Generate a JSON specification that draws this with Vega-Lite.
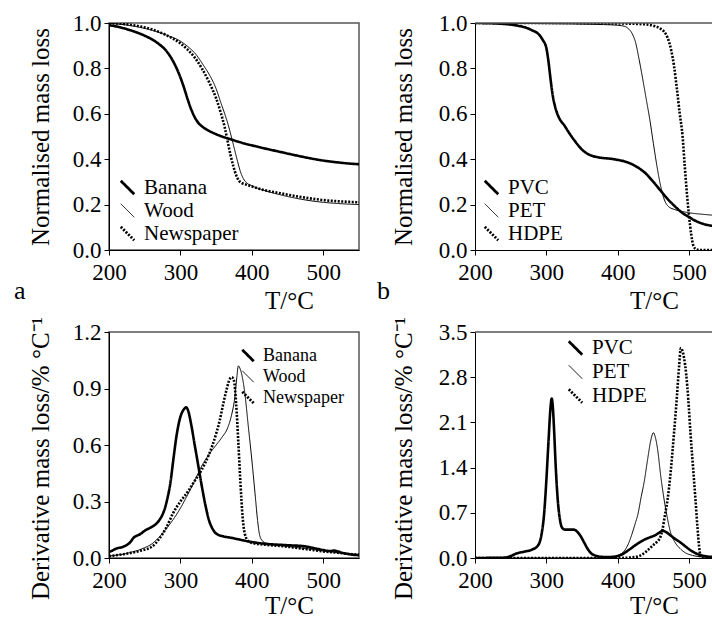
{
  "$schema": "https://vega.github.io/schema/vega-lite/v6.json",
  "padding": {"left": 13, "top": 11, "right": 0, "bottom": 0},
  "background": "white",
  "config": {
    "font": "Liberation Serif",
    "view": {"stroke": "#555555", "strokeWidth": 1.5},
    "axis": {
      "grid": false,
      "domainColor": "black",
      "domainWidth": 1,
      "tickColor": "black",
      "tickSize": 5,
      "labelFont": "Liberation Serif",
      "labelFontSize": 23,
      "labelColor": "black",
      "titleFont": "Liberation Serif",
      "titleFontSize": 25,
      "titleFontWeight": "normal",
      "titleColor": "black"
    },
    "axisY": {"labelPadding": 3, "titlePadding": 19},
    "axisX": {"labelPadding": 6, "labelFlush": false},
    "legend": {
      "labelFont": "Liberation Serif",
      "labelFontSize": 21,
      "labelColor": "black",
      "symbolType": "M-1,-1L1,1",
      "symbolSize": 180,
      "symbolStrokeColor": "black",
      "symbolFillColor": "transparent",
      "symbolStrokeWidth": 2.6,
      "labelOffset": 6,
      "rowPadding": 0
    },
    "title": {"font": "Liberation Serif", "fontWeight": "normal", "color": "black"}
  },
  "datasets": {
    "tgBio": [
      {"s":"Banana","T":200,"v":0.99},{"s":"Banana","T":210,"v":0.985},{"s":"Banana","T":220,"v":0.977},{"s":"Banana","T":230,"v":0.968},{"s":"Banana","T":240,"v":0.957},{"s":"Banana","T":250,"v":0.944},{"s":"Banana","T":260,"v":0.928},{"s":"Banana","T":270,"v":0.907},{"s":"Banana","T":280,"v":0.878},{"s":"Banana","T":290,"v":0.83},{"s":"Banana","T":300,"v":0.76},{"s":"Banana","T":305,"v":0.715},{"s":"Banana","T":310,"v":0.665},{"s":"Banana","T":315,"v":0.62},{"s":"Banana","T":320,"v":0.585},{"s":"Banana","T":325,"v":0.56},{"s":"Banana","T":330,"v":0.545},{"s":"Banana","T":340,"v":0.525},{"s":"Banana","T":350,"v":0.51},{"s":"Banana","T":360,"v":0.498},{"s":"Banana","T":370,"v":0.488},{"s":"Banana","T":380,"v":0.478},{"s":"Banana","T":390,"v":0.469},{"s":"Banana","T":400,"v":0.461},{"s":"Banana","T":420,"v":0.446},{"s":"Banana","T":440,"v":0.432},{"s":"Banana","T":460,"v":0.418},{"s":"Banana","T":480,"v":0.405},{"s":"Banana","T":500,"v":0.394},{"s":"Banana","T":520,"v":0.386},{"s":"Banana","T":540,"v":0.38},{"s":"Banana","T":550,"v":0.378},
      {"s":"Wood","T":200,"v":0.998},{"s":"Wood","T":220,"v":0.993},{"s":"Wood","T":240,"v":0.983},{"s":"Wood","T":260,"v":0.968},{"s":"Wood","T":280,"v":0.947},{"s":"Wood","T":300,"v":0.92},{"s":"Wood","T":310,"v":0.897},{"s":"Wood","T":320,"v":0.868},{"s":"Wood","T":333,"v":0.81},{"s":"Wood","T":340,"v":0.775},{"s":"Wood","T":350,"v":0.71},{"s":"Wood","T":357,"v":0.645},{"s":"Wood","T":362,"v":0.6},{"s":"Wood","T":367,"v":0.55},{"s":"Wood","T":372,"v":0.49},{"s":"Wood","T":376,"v":0.44},{"s":"Wood","T":380,"v":0.39},{"s":"Wood","T":384,"v":0.345},{"s":"Wood","T":388,"v":0.315},{"s":"Wood","T":392,"v":0.298},{"s":"Wood","T":400,"v":0.283},{"s":"Wood","T":420,"v":0.26},{"s":"Wood","T":440,"v":0.243},{"s":"Wood","T":460,"v":0.229},{"s":"Wood","T":480,"v":0.218},{"s":"Wood","T":500,"v":0.21},{"s":"Wood","T":520,"v":0.205},{"s":"Wood","T":550,"v":0.2},
      {"s":"Newspaper","T":200,"v":1.0},{"s":"Newspaper","T":220,"v":0.996},{"s":"Newspaper","T":240,"v":0.987},{"s":"Newspaper","T":260,"v":0.972},{"s":"Newspaper","T":280,"v":0.947},{"s":"Newspaper","T":300,"v":0.91},{"s":"Newspaper","T":310,"v":0.883},{"s":"Newspaper","T":320,"v":0.848},{"s":"Newspaper","T":330,"v":0.8},{"s":"Newspaper","T":340,"v":0.74},{"s":"Newspaper","T":350,"v":0.668},{"s":"Newspaper","T":356,"v":0.61},{"s":"Newspaper","T":362,"v":0.54},{"s":"Newspaper","T":366,"v":0.48},{"s":"Newspaper","T":370,"v":0.42},{"s":"Newspaper","T":374,"v":0.37},{"s":"Newspaper","T":378,"v":0.33},{"s":"Newspaper","T":382,"v":0.305},{"s":"Newspaper","T":386,"v":0.295},{"s":"Newspaper","T":392,"v":0.288},{"s":"Newspaper","T":400,"v":0.28},{"s":"Newspaper","T":420,"v":0.262},{"s":"Newspaper","T":440,"v":0.25},{"s":"Newspaper","T":460,"v":0.238},{"s":"Newspaper","T":480,"v":0.228},{"s":"Newspaper","T":500,"v":0.22},{"s":"Newspaper","T":520,"v":0.215},{"s":"Newspaper","T":550,"v":0.21}
    ],
    "tgPlas": [
      {"s":"PVC","T":200,"v":1.0},{"s":"PVC","T":220,"v":0.999},{"s":"PVC","T":240,"v":0.996},{"s":"PVC","T":260,"v":0.988},{"s":"PVC","T":270,"v":0.981},{"s":"PVC","T":280,"v":0.968},{"s":"PVC","T":290,"v":0.948},{"s":"PVC","T":295,"v":0.925},{"s":"PVC","T":300,"v":0.89},{"s":"PVC","T":303,"v":0.83},{"s":"PVC","T":306,"v":0.75},{"s":"PVC","T":309,"v":0.68},{"s":"PVC","T":312,"v":0.635},{"s":"PVC","T":316,"v":0.595},{"s":"PVC","T":320,"v":0.57},{"s":"PVC","T":325,"v":0.55},{"s":"PVC","T":330,"v":0.525},{"s":"PVC","T":340,"v":0.48},{"s":"PVC","T":350,"v":0.442},{"s":"PVC","T":360,"v":0.42},{"s":"PVC","T":370,"v":0.41},{"s":"PVC","T":380,"v":0.405},{"s":"PVC","T":390,"v":0.402},{"s":"PVC","T":400,"v":0.397},{"s":"PVC","T":410,"v":0.39},{"s":"PVC","T":420,"v":0.378},{"s":"PVC","T":430,"v":0.36},{"s":"PVC","T":440,"v":0.335},{"s":"PVC","T":450,"v":0.3},{"s":"PVC","T":460,"v":0.262},{"s":"PVC","T":470,"v":0.225},{"s":"PVC","T":480,"v":0.193},{"s":"PVC","T":490,"v":0.165},{"s":"PVC","T":500,"v":0.145},{"s":"PVC","T":510,"v":0.127},{"s":"PVC","T":520,"v":0.115},{"s":"PVC","T":535,"v":0.105},
      {"s":"PET","T":200,"v":1.0},{"s":"PET","T":300,"v":0.997},{"s":"PET","T":380,"v":0.993},{"s":"PET","T":400,"v":0.99},{"s":"PET","T":410,"v":0.985},{"s":"PET","T":415,"v":0.975},{"s":"PET","T":420,"v":0.955},{"s":"PET","T":425,"v":0.915},{"s":"PET","T":430,"v":0.84},{"s":"PET","T":435,"v":0.755},{"s":"PET","T":440,"v":0.665},{"s":"PET","T":445,"v":0.575},{"s":"PET","T":450,"v":0.47},{"s":"PET","T":455,"v":0.37},{"s":"PET","T":460,"v":0.285},{"s":"PET","T":465,"v":0.225},{"s":"PET","T":470,"v":0.195},{"s":"PET","T":480,"v":0.178},{"s":"PET","T":490,"v":0.17},{"s":"PET","T":500,"v":0.164},{"s":"PET","T":520,"v":0.157},{"s":"PET","T":535,"v":0.153},
      {"s":"HDPE","T":200,"v":1.0},{"s":"HDPE","T":300,"v":1.0},{"s":"HDPE","T":400,"v":0.998},{"s":"HDPE","T":440,"v":0.994},{"s":"HDPE","T":450,"v":0.988},{"s":"HDPE","T":460,"v":0.975},{"s":"HDPE","T":465,"v":0.962},{"s":"HDPE","T":470,"v":0.935},{"s":"HDPE","T":475,"v":0.88},{"s":"HDPE","T":479,"v":0.81},{"s":"HDPE","T":483,"v":0.71},{"s":"HDPE","T":487,"v":0.6},{"s":"HDPE","T":491,"v":0.5},{"s":"HDPE","T":494,"v":0.37},{"s":"HDPE","T":497,"v":0.25},{"s":"HDPE","T":500,"v":0.15},{"s":"HDPE","T":503,"v":0.07},{"s":"HDPE","T":506,"v":0.02},{"s":"HDPE","T":510,"v":0.003},{"s":"HDPE","T":515,"v":0.0},{"s":"HDPE","T":535,"v":0.0}
    ],
    "dtgBio": [
      {"s":"Banana","T":200,"v":0.032},{"s":"Banana","T":205,"v":0.04},{"s":"Banana","T":210,"v":0.05},{"s":"Banana","T":220,"v":0.06},{"s":"Banana","T":230,"v":0.085},{"s":"Banana","T":235,"v":0.11},{"s":"Banana","T":240,"v":0.12},{"s":"Banana","T":245,"v":0.13},{"s":"Banana","T":250,"v":0.145},{"s":"Banana","T":260,"v":0.165},{"s":"Banana","T":267,"v":0.185},{"s":"Banana","T":272,"v":0.21},{"s":"Banana","T":277,"v":0.25},{"s":"Banana","T":282,"v":0.32},{"s":"Banana","T":286,"v":0.4},{"s":"Banana","T":290,"v":0.52},{"s":"Banana","T":295,"v":0.66},{"s":"Banana","T":300,"v":0.75},{"s":"Banana","T":305,"v":0.79},{"s":"Banana","T":308,"v":0.8},{"s":"Banana","T":311,"v":0.78},{"s":"Banana","T":315,"v":0.71},{"s":"Banana","T":320,"v":0.6},{"s":"Banana","T":325,"v":0.49},{"s":"Banana","T":330,"v":0.38},{"s":"Banana","T":335,"v":0.28},{"s":"Banana","T":340,"v":0.2},{"s":"Banana","T":345,"v":0.155},{"s":"Banana","T":350,"v":0.13},{"s":"Banana","T":360,"v":0.115},{"s":"Banana","T":370,"v":0.108},{"s":"Banana","T":380,"v":0.1},{"s":"Banana","T":390,"v":0.092},{"s":"Banana","T":400,"v":0.085},{"s":"Banana","T":420,"v":0.075},{"s":"Banana","T":440,"v":0.07},{"s":"Banana","T":460,"v":0.066},{"s":"Banana","T":470,"v":0.064},{"s":"Banana","T":480,"v":0.058},{"s":"Banana","T":490,"v":0.05},{"s":"Banana","T":500,"v":0.042},{"s":"Banana","T":510,"v":0.037},{"s":"Banana","T":515,"v":0.04},{"s":"Banana","T":520,"v":0.035},{"s":"Banana","T":530,"v":0.025},{"s":"Banana","T":540,"v":0.018},{"s":"Banana","T":550,"v":0.015},
      {"s":"Wood","T":200,"v":0.01},{"s":"Wood","T":210,"v":0.015},{"s":"Wood","T":220,"v":0.02},{"s":"Wood","T":230,"v":0.03},{"s":"Wood","T":240,"v":0.04},{"s":"Wood","T":250,"v":0.055},{"s":"Wood","T":260,"v":0.075},{"s":"Wood","T":270,"v":0.11},{"s":"Wood","T":280,"v":0.155},{"s":"Wood","T":290,"v":0.205},{"s":"Wood","T":300,"v":0.265},{"s":"Wood","T":310,"v":0.335},{"s":"Wood","T":320,"v":0.41},{"s":"Wood","T":330,"v":0.49},{"s":"Wood","T":340,"v":0.55},{"s":"Wood","T":350,"v":0.6},{"s":"Wood","T":358,"v":0.64},{"s":"Wood","T":366,"v":0.69},{"s":"Wood","T":371,"v":0.75},{"s":"Wood","T":376,"v":0.85},{"s":"Wood","T":379,"v":0.96},{"s":"Wood","T":381,"v":1.02},{"s":"Wood","T":384,"v":1.0},{"s":"Wood","T":390,"v":0.88},{"s":"Wood","T":395,"v":0.7},{"s":"Wood","T":400,"v":0.52},{"s":"Wood","T":405,"v":0.32},{"s":"Wood","T":408,"v":0.2},{"s":"Wood","T":411,"v":0.12},{"s":"Wood","T":415,"v":0.09},{"s":"Wood","T":420,"v":0.078},{"s":"Wood","T":440,"v":0.066},{"s":"Wood","T":460,"v":0.057},{"s":"Wood","T":480,"v":0.048},{"s":"Wood","T":500,"v":0.038},{"s":"Wood","T":520,"v":0.028},{"s":"Wood","T":540,"v":0.02},{"s":"Wood","T":550,"v":0.018},
      {"s":"Newspaper","T":200,"v":0.01},{"s":"Newspaper","T":220,"v":0.02},{"s":"Newspaper","T":240,"v":0.035},{"s":"Newspaper","T":260,"v":0.06},{"s":"Newspaper","T":270,"v":0.1},{"s":"Newspaper","T":280,"v":0.16},{"s":"Newspaper","T":290,"v":0.24},{"s":"Newspaper","T":300,"v":0.3},{"s":"Newspaper","T":310,"v":0.35},{"s":"Newspaper","T":320,"v":0.41},{"s":"Newspaper","T":330,"v":0.47},{"s":"Newspaper","T":340,"v":0.55},{"s":"Newspaper","T":350,"v":0.66},{"s":"Newspaper","T":355,"v":0.73},{"s":"Newspaper","T":360,"v":0.82},{"s":"Newspaper","T":365,"v":0.9},{"s":"Newspaper","T":369,"v":0.95},{"s":"Newspaper","T":372,"v":0.96},{"s":"Newspaper","T":375,"v":0.94},{"s":"Newspaper","T":378,"v":0.82},{"s":"Newspaper","T":381,"v":0.62},{"s":"Newspaper","T":384,"v":0.4},{"s":"Newspaper","T":387,"v":0.22},{"s":"Newspaper","T":390,"v":0.13},{"s":"Newspaper","T":395,"v":0.09},{"s":"Newspaper","T":400,"v":0.08},{"s":"Newspaper","T":420,"v":0.07},{"s":"Newspaper","T":440,"v":0.064},{"s":"Newspaper","T":460,"v":0.055},{"s":"Newspaper","T":480,"v":0.045},{"s":"Newspaper","T":500,"v":0.035},{"s":"Newspaper","T":520,"v":0.028},{"s":"Newspaper","T":540,"v":0.02},{"s":"Newspaper","T":550,"v":0.018}
    ],
    "dtgPlas": [
      {"s":"PVC","T":200,"v":0.0},{"s":"PVC","T":240,"v":0.005},{"s":"PVC","T":250,"v":0.03},{"s":"PVC","T":258,"v":0.07},{"s":"PVC","T":270,"v":0.1},{"s":"PVC","T":280,"v":0.13},{"s":"PVC","T":288,"v":0.19},{"s":"PVC","T":293,"v":0.35},{"s":"PVC","T":297,"v":0.7},{"s":"PVC","T":300,"v":1.2},{"s":"PVC","T":303,"v":1.8},{"s":"PVC","T":306,"v":2.35},{"s":"PVC","T":307.5,"v":2.47},{"s":"PVC","T":309,"v":2.35},{"s":"PVC","T":311,"v":1.95},{"s":"PVC","T":313,"v":1.45},{"s":"PVC","T":316,"v":0.9},{"s":"PVC","T":319,"v":0.6},{"s":"PVC","T":322,"v":0.47},{"s":"PVC","T":326,"v":0.44},{"s":"PVC","T":332,"v":0.44},{"s":"PVC","T":338,"v":0.44},{"s":"PVC","T":343,"v":0.41},{"s":"PVC","T":348,"v":0.34},{"s":"PVC","T":353,"v":0.24},{"s":"PVC","T":358,"v":0.14},{"s":"PVC","T":363,"v":0.07},{"s":"PVC","T":368,"v":0.04},{"s":"PVC","T":375,"v":0.02},{"s":"PVC","T":385,"v":0.015},{"s":"PVC","T":395,"v":0.02},{"s":"PVC","T":405,"v":0.05},{"s":"PVC","T":415,"v":0.12},{"s":"PVC","T":425,"v":0.2},{"s":"PVC","T":435,"v":0.27},{"s":"PVC","T":445,"v":0.32},{"s":"PVC","T":452,"v":0.35},{"s":"PVC","T":458,"v":0.39},{"s":"PVC","T":463,"v":0.42},{"s":"PVC","T":468,"v":0.4},{"s":"PVC","T":474,"v":0.35},{"s":"PVC","T":480,"v":0.3},{"s":"PVC","T":488,"v":0.24},{"s":"PVC","T":495,"v":0.18},{"s":"PVC","T":502,"v":0.12},{"s":"PVC","T":510,"v":0.07},{"s":"PVC","T":520,"v":0.035},{"s":"PVC","T":535,"v":0.015},
      {"s":"PET","T":200,"v":0.0},{"s":"PET","T":380,"v":0.0},{"s":"PET","T":390,"v":0.01},{"s":"PET","T":400,"v":0.04},{"s":"PET","T":410,"v":0.12},{"s":"PET","T":415,"v":0.22},{"s":"PET","T":420,"v":0.37},{"s":"PET","T":425,"v":0.55},{"s":"PET","T":428,"v":0.66},{"s":"PET","T":433,"v":0.95},{"s":"PET","T":437,"v":1.17},{"s":"PET","T":442,"v":1.53},{"s":"PET","T":446,"v":1.8},{"s":"PET","T":450,"v":1.94},{"s":"PET","T":453,"v":1.86},{"s":"PET","T":456,"v":1.68},{"s":"PET","T":460,"v":1.3},{"s":"PET","T":465,"v":0.91},{"s":"PET","T":470,"v":0.6},{"s":"PET","T":474,"v":0.4},{"s":"PET","T":480,"v":0.25},{"s":"PET","T":488,"v":0.14},{"s":"PET","T":495,"v":0.08},{"s":"PET","T":505,"v":0.04},{"s":"PET","T":520,"v":0.015},{"s":"PET","T":535,"v":0.005},
      {"s":"HDPE","T":200,"v":0.0},{"s":"HDPE","T":400,"v":0.0},{"s":"HDPE","T":420,"v":0.01},{"s":"HDPE","T":430,"v":0.03},{"s":"HDPE","T":440,"v":0.1},{"s":"HDPE","T":445,"v":0.15},{"s":"HDPE","T":450,"v":0.2},{"s":"HDPE","T":455,"v":0.25},{"s":"HDPE","T":460,"v":0.33},{"s":"HDPE","T":463,"v":0.45},{"s":"HDPE","T":466,"v":0.65},{"s":"HDPE","T":470,"v":0.91},{"s":"HDPE","T":474,"v":1.3},{"s":"HDPE","T":479,"v":1.94},{"s":"HDPE","T":483,"v":2.5},{"s":"HDPE","T":486,"v":2.96},{"s":"HDPE","T":488.5,"v":3.25},{"s":"HDPE","T":491,"v":3.2},{"s":"HDPE","T":493,"v":3.1},{"s":"HDPE","T":496,"v":2.85},{"s":"HDPE","T":499,"v":2.45},{"s":"HDPE","T":502,"v":1.94},{"s":"HDPE","T":506,"v":1.35},{"s":"HDPE","T":509,"v":0.91},{"s":"HDPE","T":512,"v":0.45},{"s":"HDPE","T":514,"v":0.19},{"s":"HDPE","T":516,"v":0.03},{"s":"HDPE","T":518,"v":0.0},{"s":"HDPE","T":535,"v":0.0}
    ]
  },
  "resolve": {"scale": {"strokeDash": "independent"}, "legend": {"strokeDash": "independent"}},
  "spacing": 17,
  "hconcat": [
    {
      "bounds": "flush",
      "spacing": 82,
      "resolve": {"scale": {"strokeDash": "independent"}, "legend": {"strokeDash": "independent"}},
      "vconcat": [
        {
          "width": 250, "height": 227,
          "title": {"text": "a", "orient": "bottom", "anchor": "start", "frame": "group", "fontSize": 26, "dx": -95, "offset": -35},
          "data": {"name": "tgBio"},
          "mark": {"type": "line", "interpolate": "monotone", "color": "black", "clip": true},
          "encoding": {
            "x": {"field": "T", "type": "quantitative", "scale": {"domain": [200, 550], "nice": false}, "axis": {"values": [200, 300, 400, 500], "title": "T/°C", "titleX": 180, "titleY": 58, "titleAlign": "center", "titleBaseline": "alphabetic"}},
            "y": {"field": "v", "type": "quantitative", "scale": {"domain": [0, 1], "nice": false}, "axis": {"values": [0, 0.2, 0.4, 0.6, 0.8, 1.0], "format": ".1f", "title": "Normalised mass loss"}},
            "strokeWidth": {"condition": {"test": "datum.s === 'Wood'", "value": 1}, "value": 2.6},
            "strokeDash": {"field": "s", "type": "nominal", "scale": {"domain": ["Banana", "Wood", "Newspaper"], "range": [[1, 0], [1, 0], [2, 1.5]]}, "legend": {"title": null, "orient": "none", "legendX": 8, "legendY": 153, "clipHeight": 23, "encode": {"symbols": {"update": {"strokeWidth": {"signal": "datum.value === 'Wood' ? 1 : 2.8"}}}}}}
          }
        },
        {
          "width": 250, "height": 226,
          "data": {"name": "dtgBio"},
          "mark": {"type": "line", "interpolate": "monotone", "color": "black", "clip": true},
          "encoding": {
            "x": {"field": "T", "type": "quantitative", "scale": {"domain": [200, 550], "nice": false}, "axis": {"values": [200, 300, 400, 500], "title": "T/°C", "titleX": 180, "titleY": 55, "titleAlign": "center", "titleBaseline": "alphabetic"}},
            "y": {"field": "v", "type": "quantitative", "scale": {"domain": [0, 1.2], "nice": false}, "axis": {"values": [0, 0.3, 0.6, 0.9, 1.2], "format": ".1f", "title": "Derivative mass loss/% °C⁻¹", "titleY": 126}},
            "strokeWidth": {"condition": {"test": "datum.s === 'Wood'", "value": 1}, "value": 2.6},
            "strokeDash": {"field": "s", "type": "nominal", "scale": {"domain": ["Banana", "Wood", "Newspaper"], "range": [[1, 0], [1, 0], [2, 1.5]]}, "legend": {"title": null, "orient": "none", "legendX": 130, "legendY": 13, "labelFontSize": 18, "symbolSize": 130, "clipHeight": 21, "encode": {"symbols": {"update": {"strokeWidth": {"signal": "datum.value === 'Wood' ? 1 : 2.8"}}}}}}
          }
        }
      ]
    },
    {
      "bounds": "flush",
      "spacing": 82,
      "resolve": {"scale": {"strokeDash": "independent"}, "legend": {"strokeDash": "independent"}},
      "vconcat": [
        {
          "width": 239, "height": 227,
          "view": {"stroke": null},
          "title": {"text": "b", "orient": "bottom", "anchor": "start", "frame": "group", "fontSize": 26, "dx": -98, "offset": -35},
          "layer": [
            {
              "data": {"name": "tgPlas"},
              "mark": {"type": "line", "interpolate": "monotone", "color": "black", "clip": true},
              "encoding": {
                "x": {"field": "T", "type": "quantitative", "scale": {"domain": [200, 535], "nice": false}, "axis": {"values": [200, 300, 400, 500], "title": "T/°C", "titleX": 179, "titleY": 58, "titleAlign": "center", "titleBaseline": "alphabetic"}},
                "y": {"field": "v", "type": "quantitative", "scale": {"domain": [0, 1], "nice": false}, "axis": {"values": [0, 0.2, 0.4, 0.6, 0.8, 1.0], "format": ".1f", "title": "Normalised mass loss", "titlePadding": 22}},
                "strokeWidth": {"condition": {"test": "datum.s === 'PET'", "value": 1}, "value": 2.6},
                "strokeDash": {"field": "s", "type": "nominal", "scale": {"domain": ["PVC", "PET", "HDPE"], "range": [[1, 0], [1, 0], [2, 1.5]]}, "legend": {"title": null, "orient": "none", "legendX": 6, "legendY": 153, "clipHeight": 23, "encode": {"symbols": {"update": {"strokeWidth": {"signal": "datum.value === 'PET' ? 1 : 2.8"}}}}}}
              }
            },
            {
              "data": {"values": [{}]},
              "mark": {"type": "rule", "color": "#555555", "strokeWidth": 1.5},
              "encoding": {"y": {"datum": 1}}
            }
          ]
        },
        {
          "width": 239, "height": 226,
          "view": {"stroke": null},
          "layer": [
            {
              "data": {"name": "dtgPlas"},
              "mark": {"type": "line", "interpolate": "monotone", "color": "black", "clip": true},
              "encoding": {
                "x": {"field": "T", "type": "quantitative", "scale": {"domain": [200, 535], "nice": false}, "axis": {"values": [200, 300, 400, 500], "title": "T/°C", "titleX": 179, "titleY": 55, "titleAlign": "center", "titleBaseline": "alphabetic"}},
                "y": {"field": "v", "type": "quantitative", "scale": {"domain": [0, 3.5], "nice": false}, "axis": {"values": [0, 0.7, 1.4, 2.1, 2.8, 3.5], "format": ".1f", "title": "Derivative mass loss/% °C⁻¹", "titleY": 126, "titlePadding": 22}},
                "strokeWidth": {"condition": {"test": "datum.s === 'PET'", "value": 1}, "value": 2.6},
                "strokeDash": {"field": "s", "type": "nominal", "scale": {"domain": ["PVC", "PET", "HDPE"], "range": [[1, 0], [1, 0], [2, 1.5]]}, "legend": {"title": null, "orient": "none", "legendX": 90, "legendY": 4, "clipHeight": 24, "encode": {"symbols": {"update": {"strokeWidth": {"signal": "datum.value === 'PET' ? 1 : 2.8"}}}}}}
              }
            },
            {
              "data": {"values": [{}]},
              "mark": {"type": "rule", "color": "#555555", "strokeWidth": 1.5},
              "encoding": {"y": {"datum": 3.5}}
            }
          ]
        }
      ]
    }
  ]
}
